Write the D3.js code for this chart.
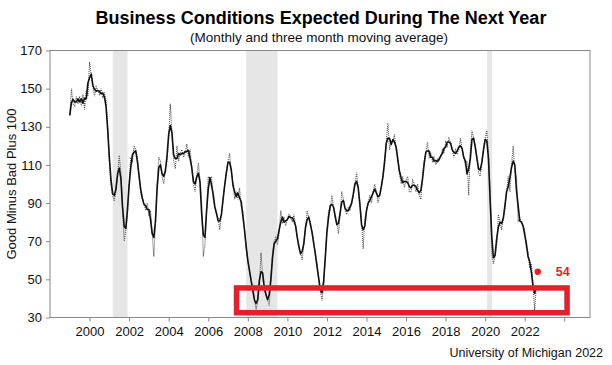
<!DOCTYPE html>
<html>
<head>
<meta charset="utf-8">
<script src="https://cdn.jsdelivr.net/npm/d3@7"></script>
<style>
  html, body { margin: 0; padding: 0; background: #fff; }
  svg { display: block; font-family: "Liberation Sans", Arial, sans-serif; }
</style>
</head>
<body>
<div id="chart"></div>
<script>
// ═══════════════════════════════════════════════════════════
// DATA — monthly index, Jan 1999 onwards
// ═══════════════════════════════════════════════════════════
const startYear = 1999;
const monthly = [
  136, 150, 142, 141, 146, 142, 146, 141, 147, 139, 149, 146,
  164, 157, 152, 146, 151, 149, 147, 150, 145, 148, 144, 130,
  112, 100, 94, 91, 97, 104, 115, 106, 88, 70, 76, 84,
  100, 114, 112, 120, 118, 114, 104, 96, 92, 90, 86, 90, 84,
  86, 74, 62, 80, 100, 114, 112, 104, 100, 108, 112, 124,
  142, 126, 112, 108, 120, 112, 116, 118, 114, 116, 121, 114,
  118, 108, 100, 96, 104, 111, 102, 90, 62, 68, 86, 104,
  102, 104, 92, 88, 84, 82, 76, 84, 92, 100, 106, 112,
  116, 106, 100, 92, 96, 92, 98, 88, 86, 76, 66, 60,
  54, 50, 44, 40, 34, 38, 46, 64, 52, 44, 42, 40,
  36, 50, 64, 70, 72, 68, 74, 86, 80, 82, 78, 82,
  84, 83, 80, 84, 78, 72, 66, 64, 60, 70, 76, 86, 82,
  80, 74, 70, 62, 58, 50, 44, 39, 46, 62, 76, 86,
  86, 94, 88, 82, 80, 74, 84, 96, 92, 86, 84, 88,
  86, 90, 94, 100, 106, 98, 90, 80, 66, 82, 86, 90,
  94, 90, 96, 100, 96, 90, 94, 98, 104, 110, 122, 132,
  118, 122, 122, 126, 118, 114, 106, 100, 104, 98, 102, 104,
  96, 96, 102, 100, 96, 100, 94, 92, 104, 112, 116, 122,
  114, 116, 112, 114, 110, 113, 112, 114, 118, 116, 122, 120, 124,
  122, 118, 114, 118, 116, 118, 124, 118, 114, 110, 112, 94,
  118, 128, 124, 120, 114, 106, 104, 112, 118, 124, 128, 116,
  96, 64, 58, 62, 68, 84, 80, 76, 82, 88, 96, 104,
  96, 110, 120, 106, 104, 80, 82, 80, 78, 76, 66, 64,
  56, 58, 48, 34, 46
];

// recessions (shaded), as [start, end] in years
const recessions = [[2001.17, 2001.92], [2007.92, 2009.5], [2020.1, 2020.35]];

const yTicks = [30, 50, 70, 90, 110, 130, 150, 170];
const xTicks = [2000, 2002, 2004, 2006, 2008, 2010, 2012, 2014, 2016, 2018, 2020, 2022, 2024];
const xTickLabels = ['2000', '2002', '2004', '2006', '2008', '2010', '2012', '2014', '2016', '2018', '2020', '2022', ''];

// annotations
const latestPoint = { year: 2022.66, value: 54, label: '54' };
const boxYears  = [2007.43, 2024.14];
const boxValues = [32.5, 45.5];

// ═══════════════════════════════════════════════════════════
// SERIES — three month moving average of the monthly values
// ═══════════════════════════════════════════════════════════
const points = monthly.map((v, i) => ({ year: startYear + i / 12, value: v }));
const smooth = points.map((p, i) => ({
  year: p.year,
  value: (i === 0 || i === monthly.length - 1)
    ? p.value
    : d3.mean(monthly.slice(i - 1, i + 2))
}));

// ═══════════════════════════════════════════════════════════
// LAYOUT
// ═══════════════════════════════════════════════════════════
const W = 612, H = 365;
const plot = { left: 50, right: 590, top: 50.5, bottom: 317.5 };

const x = d3.scaleLinear().domain([1998, 2025.3]).range([plot.left, plot.right]);
const y = d3.scaleLinear().domain([30, 170]).range([plot.bottom, plot.top]);

const svg = d3.select('#chart').append('svg')
  .attr('width', W)
  .attr('height', H);

// titles
svg.append('text')
  .attr('x', 321).attr('y', 24)
  .attr('text-anchor', 'middle')
  .attr('font-size', 18).attr('font-weight', 'bold')
  .attr('fill', '#000')
  .text('Business Conditions Expected During The Next Year');

svg.append('text')
  .attr('x', 319).attr('y', 42)
  .attr('text-anchor', 'middle')
  .attr('font-size', 13.5)
  .attr('fill', '#111')
  .text('(Monthly and three month moving average)');

// recession bands
svg.append('g').selectAll('rect')
  .data(recessions)
  .join('rect')
  .attr('x', d => x(d[0]))
  .attr('width', d => x(d[1]) - x(d[0]))
  .attr('y', plot.top)
  .attr('height', plot.bottom - plot.top)
  .attr('fill', '#e6e6e6');

// axes
const yAxis = svg.append('g')
  .attr('transform', `translate(${plot.left},0)`)
  .call(d3.axisLeft(y).tickValues(yTicks).tickSize(4).tickPadding(4));

const xAxis = svg.append('g')
  .attr('transform', `translate(0,${plot.bottom})`)
  .call(d3.axisBottom(x).tickValues(xTicks).tickSize(4).tickPadding(5)
    .tickFormat((d, i) => xTickLabels[i]));

[yAxis, xAxis].forEach(g => {
  g.select('.domain').remove();
  g.selectAll('line').attr('stroke', '#888');
  g.selectAll('text')
    .attr('font-family', '"Liberation Sans", Arial, sans-serif')
    .attr('font-size', 13)
    .attr('fill', '#111');
});

// frame
svg.append('rect')
  .attr('x', plot.left).attr('y', plot.top)
  .attr('width', plot.right - plot.left)
  .attr('height', plot.bottom - plot.top)
  .attr('fill', 'none')
  .attr('stroke', '#888')
  .attr('stroke-width', 1);

svg.append('text')
  .attr('transform', `translate(16,${(plot.top + plot.bottom) / 2}) rotate(-90)`)
  .attr('text-anchor', 'middle')
  .attr('font-size', 13)
  .attr('fill', '#111')
  .text('Good Minus Bad Plus 100');

// ═══════════════════════════════════════════════════════════
// LINES
// ═══════════════════════════════════════════════════════════
const line = d3.line().x(d => x(d.year)).y(d => y(d.value));

svg.append('path')
  .datum(points)
  .attr('d', line)
  .attr('fill', 'none')
  .attr('stroke', '#555')
  .attr('stroke-width', 1.1)
  .attr('stroke-dasharray', '1,1');

svg.append('path')
  .datum(smooth)
  .attr('d', line)
  .attr('fill', 'none')
  .attr('stroke', '#111')
  .attr('stroke-width', 1.6)
  .attr('stroke-linejoin', 'round');

// ═══════════════════════════════════════════════════════════
// ANNOTATIONS
// ═══════════════════════════════════════════════════════════
svg.append('rect')
  .attr('x', x(boxYears[0]))
  .attr('y', y(boxValues[1]))
  .attr('width', x(boxYears[1]) - x(boxYears[0]))
  .attr('height', y(boxValues[0]) - y(boxValues[1]))
  .attr('fill', 'none')
  .attr('stroke', '#e3202b')
  .attr('stroke-width', 5.5);

svg.append('circle')
  .attr('cx', x(latestPoint.year))
  .attr('cy', y(latestPoint.value))
  .attr('r', 3.2)
  .attr('fill', '#f01c24');

svg.append('text')
  .attr('x', x(latestPoint.year) + 18)
  .attr('y', y(latestPoint.value) + 4.5)
  .attr('font-size', 12.5)
  .attr('font-weight', 'bold')
  .attr('fill', '#f01c24')
  .text(latestPoint.label);

svg.append('text')
  .attr('x', 603).attr('y', 357)
  .attr('text-anchor', 'end')
  .attr('font-size', 12.5)
  .attr('fill', '#111')
  .text('University of Michigan 2022');
</script>
</body>
</html>
